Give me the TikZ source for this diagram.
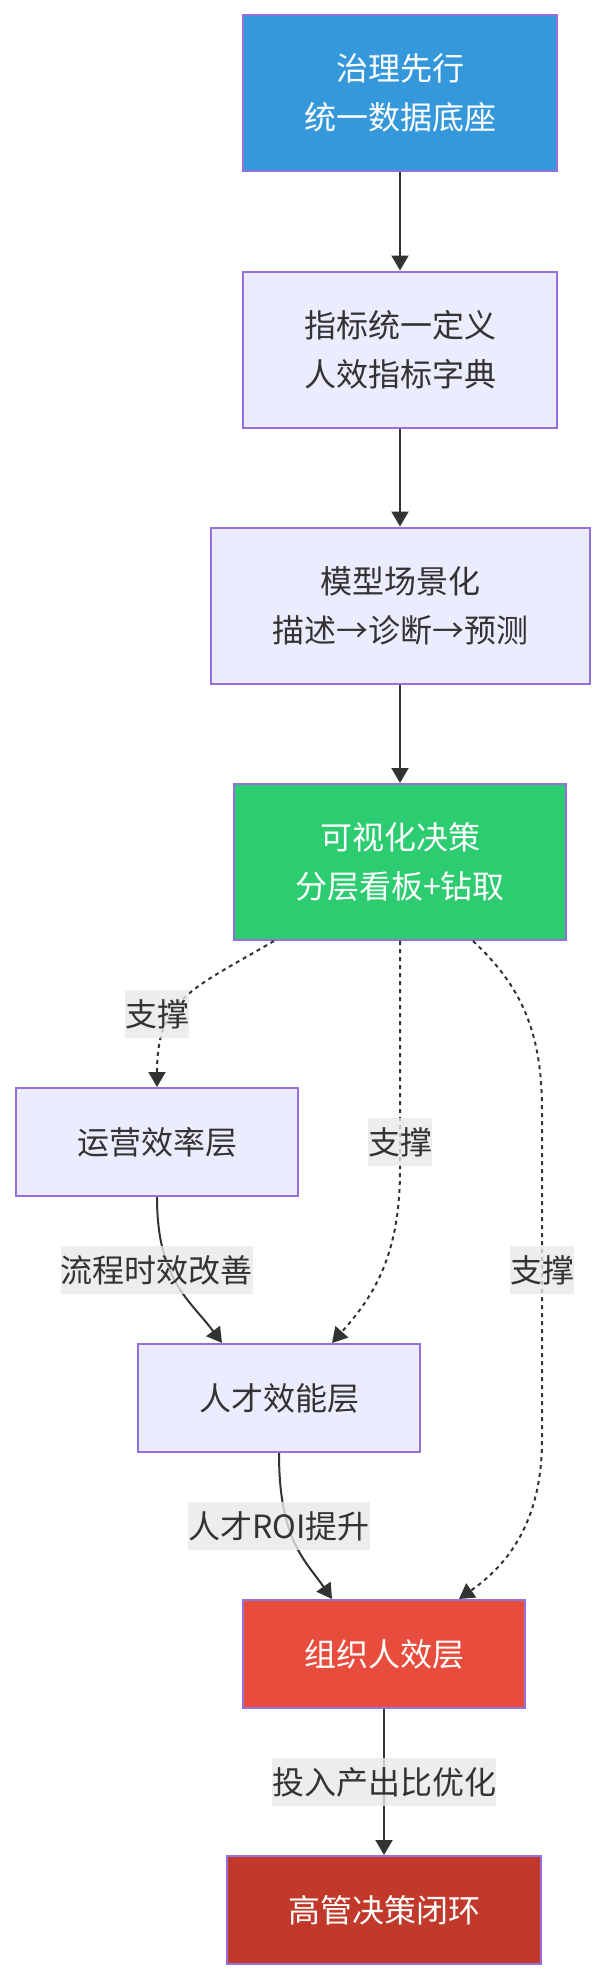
\documentclass[tikz,border=0pt]{standalone}
\usepackage{fontspec}
\setmainfont{Noto Sans CJK SC}
\usetikzlibrary{arrows.meta,calc}

\definecolor{boxborder}{HTML}{9370DB}
\definecolor{boxfill}{HTML}{ECECFF}
\definecolor{inkgray}{HTML}{333333}
\definecolor{lblgray}{HTML}{E8E8E8}
\definecolor{govblue}{HTML}{3498DB}
\definecolor{vizgreen}{HTML}{2ECC71}
\definecolor{orgred}{HTML}{E74C3C}
\definecolor{execred}{HTML}{C0392B}

\begin{document}
\begin{tikzpicture}[x=0.5pt, y=-0.5pt,
		>={Triangle[length=7.5pt,width=8.5pt]},
		box/.style={draw=boxborder, line width=1pt, fill=boxfill, text=inkgray,
			align=center, inner sep=0pt, font=\fontsize{16pt}{24.5pt}\selectfont},
		tall/.style={minimum height=78pt},
		short/.style={minimum height=54pt},
		lbl/.style={fill=lblgray, fill opacity=0.8, text opacity=1, text=inkgray,
			inner xsep=0pt, inner ysep=0pt, minimum height=24pt,
			font=\fontsize{16pt}{24.5pt}\selectfont},
		link/.style={draw=inkgray, line width=1pt, ->},
		dotlink/.style={link, dash pattern=on 2pt off 2pt}]
	
	\useasboundingbox (0,0) rectangle (602,1980);
	
	\node[box, tall, fill=govblue, text=white, minimum width=157pt] (gov) at (400,93) {治理先行\\统一数据底座};
	\node[box, tall, minimum width=157pt] (metric) at (400,349.5) {指标统一定义\\人效指标字典};
	\node[box, tall, minimum width=189.5pt] (model) at (400,605.5) {模型场景化\\描述→诊断→预测};
	\node[box, tall, fill=vizgreen, text=white, minimum width=166pt] (viz) at (400,862) {可视化决策\\分层看板+钻取};
	
	\node[box, short, minimum width=141pt] (ops) at (157,1142) {运营效率层};
	\node[box, short, minimum width=141pt] (talent) at (279,1398) {人才效能层};
	\node[box, short, fill=orgred, text=white, minimum width=141pt] (org) at (384,1654) {组织人效层};
	\node[box, short, fill=execred, text=white, minimum width=157pt] (exec) at (384,1910) {高管决策闭环};
	
	\draw[link] (gov) -- (metric);
	\draw[link] (metric) -- (model);
	\draw[link] (model) -- (viz);
	
	% dotted support links
	\draw[dotlink] ($(viz.south)+(-126,0)$) .. controls (190,990) and (157,1000) .. (ops.north);
	\draw[dotlink] (viz.south) -- (400,1170) .. controls (400,1260) and (370,1300) .. ($(talent.north)+(53,0)$);
	\draw[dotlink] ($(viz.south)+(73,0)$) .. controls (520,985) and (542,1030) .. (542,1110)
		-- (542,1440) .. controls (542,1530) and (500,1570) .. ($(org.north)+(75,0)$);
	
	\draw[link] (ops.south) .. controls (157,1280) and (190,1300) .. ($(talent.north)+(-57,0)$);
	\draw[link] (talent.south) .. controls (279,1540) and (305,1560) .. ($(org.north)+(-52,0)$);
	\draw[link] (org) -- (exec);
	
	\node[lbl] (sup1) at (157,1014) {支撑};
	\node[lbl] (sup2) at (400,1142) {支撑};
	\node[lbl] (sup3) at (542,1270) {支撑};
	\node[lbl] (flow) at (157,1270) {流程时效改善};
	\node[lbl] (roi) at (279,1526) {人才ROI提升};
	\node[lbl] (ratio) at (384,1782) {投入产出比优化};
	
\end{tikzpicture}
\end{document}
